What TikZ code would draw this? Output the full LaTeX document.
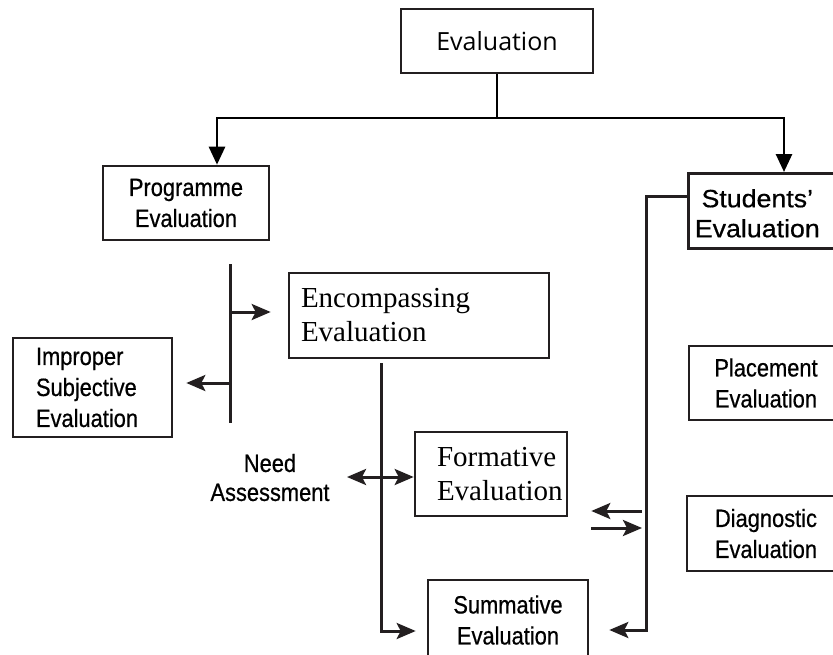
\documentclass[tikz,border=0pt]{standalone}
\usepackage{fontspec}
\setmainfont{Liberation Serif}
\newfontfamily\headfont{Open Sans}
\newfontfamily\condfont[FakeStretch=0.874,FakeBold=0.6]{Liberation Sans}
\newfontfamily\widefont[FakeStretch=1.07,FakeBold=0.6]{Liberation Sans}
\usetikzlibrary{arrows.meta}
\definecolor{ink}{HTML}{231F20}

\begin{document}
\begin{tikzpicture}[x=1pt,y=-1pt,
  frame/.style={draw=ink, line width=2.6pt, inner sep=0pt},
  cond/.style={font=\condfont\fontsize{25}{31}\selectfont},
  wide/.style={font=\widefont\fontsize{25}{30}\selectfont},
  serif/.style={font=\rmfamily\fontsize{29}{34}\selectfont},
  topwire/.style={draw=black, line width=2.7pt},
  wire/.style={draw=ink, line width=3pt},
  headed/.style={-{Stealth[length=19pt,width=16pt,inset=4pt]}},
  twoheaded/.style={{Stealth[length=19pt,width=16pt,inset=4pt]}-{Stealth[length=19pt,width=16pt,inset=4pt]}},
  forked/.style={{Triangle[length=18pt,width=16pt]}-{Triangle[length=18pt,width=16pt]}}
]
\useasboundingbox (0,0) rectangle (833,654);
\clip (0,0) rectangle (833,654);

% boxes
\node[frame, minimum width=192pt, minimum height=64pt,
      font=\headfont\fontsize{25}{30}\selectfont] (eval) at (497,41) {Evaluation};
\node[frame, cond, align=center, minimum width=166pt, minimum height=74pt]
      (prog) at (186,203) {Programme\\Evaluation};
\node[frame, minimum width=170pt, minimum height=75pt, anchor=north west,
      label={[wide, align=center, xshift=-16pt, yshift=-2.5pt]center:{Students’\\Evaluation}}]
      (stud) at (687,172) {};
\node[frame, cond, align=left, text width=113pt, inner xsep=23pt, minimum height=99pt]
      (improper) at (92.5,387.5) {Improper\\Subjective\\Evaluation};
\node[frame, serif, align=left, text width=236pt, inner xsep=12pt, minimum height=85pt]
      (encomp) at (419,315.5) {Encompassing\\Evaluation};
\node[frame, serif, align=left, text width=108pt, inner xsep=22pt, minimum height=84pt]
      (form) at (491,474) {\mbox{Formative}\\\mbox{Evaluation}};
\node[frame, cond, align=center, minimum width=160pt, minimum height=80pt]
      (summ) at (508,620) {Summative\\Evaluation};
\node[frame, cond, align=center, minimum width=154pt, minimum height=74pt]
      (place) at (766,383) {Placement\\Evaluation};
\node[frame, cond, align=center, minimum width=158pt, minimum height=75pt]
      (diag) at (766,533.5) {Diagnostic\\Evaluation};
\node[cond, align=center, font=\condfont\fontsize{25}{29}\selectfont]
      (need) at (270,477.5) {Need\\Assessment};

% top fork
\coordinate (fork) at (497,118);
\coordinate (pl) at (217,118);
\coordinate (sr) at (784,118);
\draw[topwire] (eval.south) -- (fork);
\draw[topwire, line join=miter, forked] (pl |- prog.north) -- (pl) -- (sr) -- (sr |- stud.north);

% programme bracket
\coordinate (pbt) at (230,264);
\coordinate (pbb) at (230,423);
\coordinate (armE) at (230,312);
\coordinate (armI) at (230,383);
\draw[wire] (pbt) -- (pbb);
\draw[wire, headed, shorten >=17pt] (armE) -- (armE -| encomp.west);
\draw[wire, headed, shorten >=13pt] (armI) -- (armI -| improper.east);

% encompassing stem to summative
\coordinate (estem) at (381,363);
\coordinate (ebend) at (381,631);
\draw[wire, line join=miter, headed, shorten >=11pt] (estem) -- (ebend) -- (ebend -| summ.west);

% need assessment
\coordinate (nl) at (347,477);
\draw[wire, twoheaded] (nl) -- (nl -| form.west);

% students' bracket
\coordinate (rb) at (646,196);
\coordinate (rbb) at (646,630);
\draw[wire, line join=miter, headed, shorten >=20pt] (rb -| stud.west) -- (rb) -- (rbb) -- (rbb -| summ.east);

% formative exchange arrows
\coordinate (fa1) at (642,511);
\coordinate (fa2) at (642,528);
\draw[wire, headed, shorten >=23pt] (fa1) -- (fa1 -| form.east);
\draw[wire, headed, shorten <=23pt] (fa2 -| form.east) -- (fa2);
\end{tikzpicture}
\end{document}
